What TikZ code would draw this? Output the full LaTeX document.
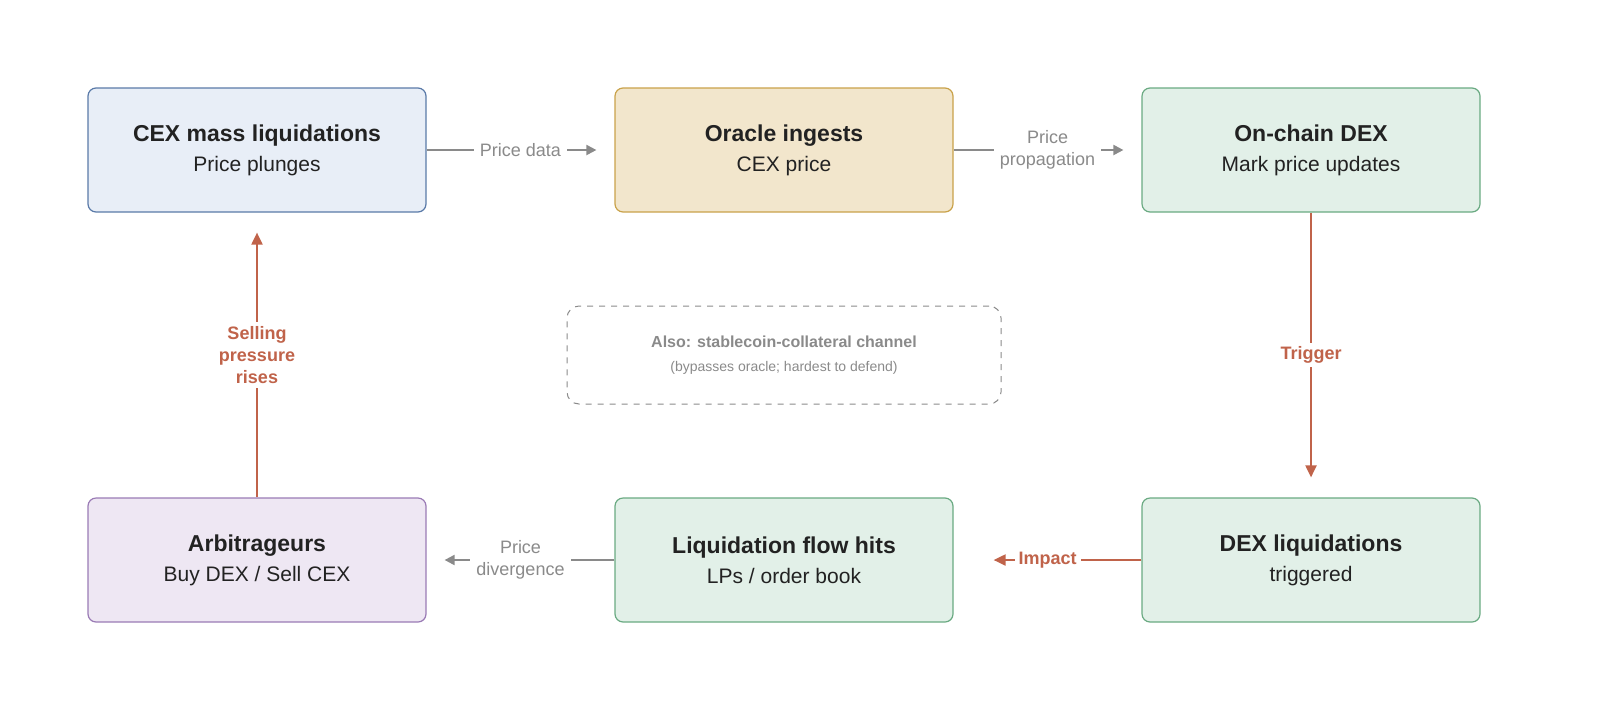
\documentclass[tikz,border=0pt]{standalone}
\usepackage{fontspec}
\setmainfont{Liberation Sans}
\usetikzlibrary{arrows.meta,positioning}
\definecolor{bluefill}{HTML}{E8EEF7}\definecolor{blueline}{HTML}{5A7AA8}
\definecolor{orafill}{HTML}{F2E6CC}\definecolor{oraline}{HTML}{C9A24A}
\definecolor{grnfill}{HTML}{E2F0E8}\definecolor{grnline}{HTML}{6AAA82}
\definecolor{purfill}{HTML}{EEE7F3}\definecolor{purline}{HTML}{9A7BB5}
\definecolor{redarr}{HTML}{C0634A}\definecolor{grayarr}{HTML}{8A8A8A}
\definecolor{txt}{HTML}{222222}
\tikzset{
  box/.style={rectangle,rounded corners=4pt,minimum width=169pt,minimum height=62pt,
    align=center,text=txt,font=\fontsize{10.5}{15}\selectfont,line width=0.6pt},
  flow/.style={-{Triangle[length=5pt,width=5pt]},draw=grayarr,line width=1pt,shorten >=9pt},
  flowlbl/.style={fill=white,text=grayarr,font=\fontsize{9}{11}\selectfont,align=center,inner sep=3pt},
  hot/.style={-{Triangle[length=6pt,width=5.5pt]},draw=redarr,line width=1pt},
  hotlbl/.style={fill=white,text=redarr,font=\bfseries\fontsize{9}{11}\selectfont,align=center,inner sep=2pt}
}
\begin{document}
\begin{tikzpicture}[x=0.5pt,y=-0.5pt]
  \useasboundingbox (0,0) rectangle (1600,724);
  \node[box,fill=bluefill,draw=blueline] (cex) at (257,150)
    {{\bfseries\fontsize{11.5}{15}\selectfont CEX mass liquidations}\\Price plunges};
  \node[box,fill=orafill,draw=oraline] (oracle) at (784,150)
    {{\bfseries\fontsize{11.5}{15}\selectfont Oracle ingests}\\CEX price};
  \node[box,fill=grnfill,draw=grnline] (dex) at (1311,150)
    {{\bfseries\fontsize{11.5}{15}\selectfont On-chain DEX}\\Mark price updates};
  \node[box,fill=grnfill,draw=grnline] (dexliq) at (1311,560)
    {{\bfseries\fontsize{11.5}{15}\selectfont DEX liquidations}\\triggered};
  \node[box,fill=grnfill,draw=grnline] (flow) at (784,560)
    {{\bfseries\fontsize{11.5}{15}\selectfont Liquidation flow hits}\\LPs / order book};
  \node[box,fill=purfill,draw=purline] (arb) at (257,560)
    {{\bfseries\fontsize{11.5}{15}\selectfont Arbitrageurs}\\Buy DEX / Sell CEX};
  \node[rectangle,rounded corners=6pt,draw=grayarr,dashed,line width=0.5pt,
    minimum width=217pt,minimum height=49pt,align=center,text=grayarr] (note) at (784,355)
    {{\bfseries\fontsize{8}{12}\selectfont Also: stablecoin-collateral channel}\\
     {\fontsize{7}{12}\selectfont (bypasses oracle; hardest to defend)}};

  \draw[flow] (cex) -- node[flowlbl] {Price data} (oracle);
  \draw[flow] (oracle) -- node[flowlbl] {Price\\propagation} (dex);
  \draw[hot,shorten >=10pt] (dex) -- node[hotlbl] {Trigger} (dexliq);
  \draw[hot,shorten >=20pt] (dexliq) -- node[hotlbl] {Impact} (flow);
  \draw[flow] (flow) -- node[flowlbl] {Price\\divergence} (arb);
  \draw[hot,shorten >=10pt] (arb) -- node[hotlbl,pos=0.5] {Selling\\pressure\\rises} (cex);
\end{tikzpicture}
\end{document}
